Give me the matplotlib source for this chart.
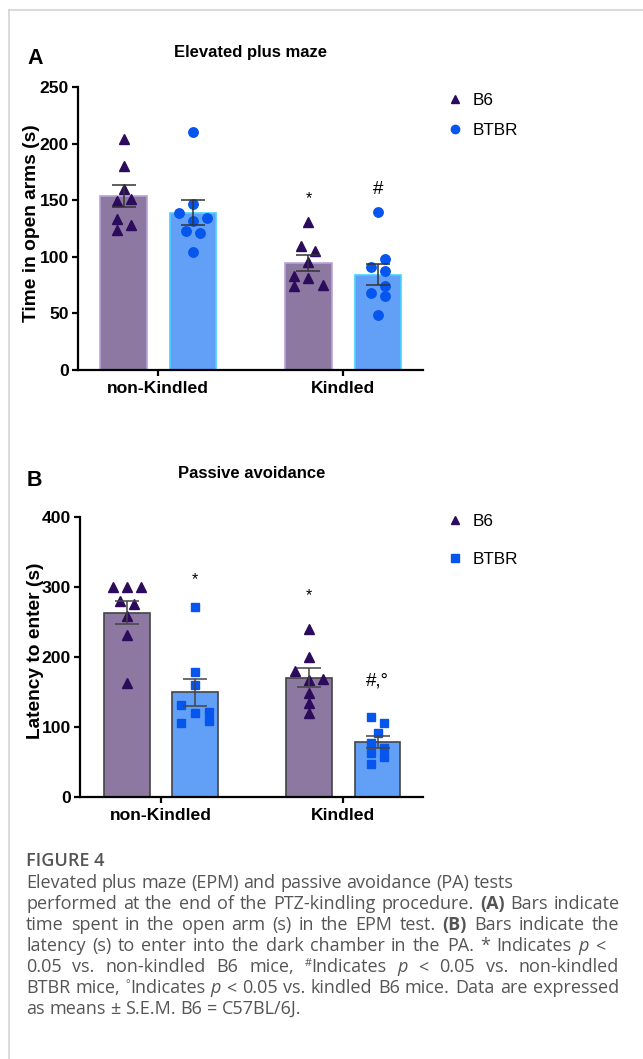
import matplotlib
matplotlib.use('Agg')
import matplotlib.pyplot as plt
from matplotlib.lines import Line2D

W, H = 643, 1059

groups = ['non-Kindled', 'Kindled']
strains = ['B6', 'BTBR']

# Elevated plus maze: individual animals (s)
epm_b6_nonk = [204, 180, 160, 149, 151, 133, 128, 124]
epm_btbr_nonk = [210.5, 147, 139, 132, 134, 123, 121, 104.5]
epm_b6_k = [131, 109.5, 105.4, 95.1, 82.8, 81.3, 74.2, 75.1]
epm_btbr_k = [139.6, 98, 91.3, 87.7, 74.2, 68.3, 65.6, 48.9]
# column slot of each dot inside its bar (-2..2)
epm_b6_nonk_slot = [0, 0, 0, -1, 1, -1, 1, -1]
epm_btbr_nonk_slot = [0, 0, -2, 0, 2, -1, 1, 0]
epm_b6_k_slot = [0, -1, 1, 0, -2, 0, -2, 2]
epm_btbr_k_slot = [0, 1, -1, 1, 1, -1, 1, 0]
epm_mean_b6 = [153.7, 94.5]
epm_sem_b6 = [9.8, 7.0]
epm_mean_btbr = [139, 84.2]
epm_sem_btbr = [11, 9.5]

# Passive avoidance latency (s)
pa_b6_nonk = [300, 300, 300, 280, 275, 258, 230.5, 163]
pa_btbr_nonk = [271.4, 177.6, 159, 130.5, 119, 121, 108.6, 104.8]
pa_b6_k = [239, 200, 179.5, 168.6, 166.7, 148.6, 133.3, 120]
pa_btbr_k = [113.3, 104.8, 90.5, 77.1, 62.9, 69, 57.1, 46.7]
pa_b6_nonk_slot = [-2, 0, 2, -1, 1, 0, 0, 0]
pa_btbr_nonk_slot = [0, 0, 0, -2, 0, 2, 2, -2]
pa_b6_k_slot = [0, 0, -2, 2, 0, 0, 0, 0]
pa_btbr_k_slot = [-1, 1, 0, -1, -1, 1, 1, -1]
pa_mean_b6 = [263, 170]
pa_sem_b6 = [16.5, 13.4]
pa_mean_btbr = [149, 77.5]
pa_sem_btbr = [19.5, 8.6]

# significance marks: (group, strain, text, y)
epm_marks = [(1, 0, '*', 145), (1, 1, '#', 152)]
pa_marks = [(0, 1, '*', 299), (1, 0, '*', 277), (1, 1, '#,\u00b0', 153)]

b6_fill, btbr_fill = '#8c78a0', '#62a0f7'
b6_dot, btbr_dot = '#2c0b5c', '#0656ee'
off, bw, step = 0.1875, 0.25, 0.038

plt.rcParams['font.family'] = ['Liberation Sans', 'DejaVu Sans']

fig = plt.figure(figsize=(W / 100, H / 100), dpi=100)


def box(l, t, r, b):
    return [l / W, 1 - b / H, (r - l) / W, (b - t) / H]


def panel(ax, means, sems, pts, slots, edges, errc, ymax, yticks, xlim, bmark):
    xs = [[g - off, g + off] for g in range(2)]
    for si, (fill, dot, mk, ms) in enumerate([(b6_fill, b6_dot, '^', 6.8),
                                              (btbr_fill, btbr_dot, bmark[0], bmark[1])]):
        bx = [xs[g][si] for g in range(2)]
        ax.bar(bx, means[si], width=bw, color=fill, edgecolor=edges[si], lw=1.2, zorder=2)
        ax.errorbar(bx, means[si], yerr=sems[si], fmt='none', ecolor=errc, elinewidth=1.1,
                    capsize=8.3, capthick=1.1, zorder=4)
        for g in range(2):
            vals = pts[g][si]
            sl = slots[g][si]
            ax.plot([bx[g] + s * step for s in sl], vals, ls='none', marker=mk, ms=ms,
                    color=dot, mec=dot, zorder=3)
    ax.set_xlim(*xlim)
    ax.set_ylim(0, ymax)
    ax.set_yticks(yticks)
    ax.set_xticks(range(2))
    ax.set_xticklabels(groups)
    for s in ['top', 'right']:
        ax.spines[s].set_visible(False)
    for s in ['left', 'bottom']:
        ax.spines[s].set_linewidth(1.6)
    ax.tick_params(axis='y', length=4.5, width=1.6, pad=2, labelsize=12.6)
    ax.tick_params(axis='x', length=4.5, width=1.6, pad=3.5, labelsize=12.6)
    for lab in ax.get_xticklabels() + ax.get_yticklabels():
        lab.set_fontweight('bold')
    return xs


axA = fig.add_axes(box(78, 87, 423, 370))
xsA = panel(axA, [epm_mean_b6, epm_mean_btbr], [epm_sem_b6, epm_sem_btbr],
            [[epm_b6_nonk, epm_btbr_nonk], [epm_b6_k, epm_btbr_k]],
            [[epm_b6_nonk_slot, epm_btbr_nonk_slot], [epm_b6_k_slot, epm_btbr_k_slot]],
            ['#b9a2d8', '#45d2ff'], '#333333', 250, [0, 50, 100, 150, 200, 250],
            (-0.434, 1.432), ('o', 6.8))
for g, s, t, y in epm_marks:
    axA.text(xsA[g][s], y, t, ha='center', va='bottom', fontsize=11.5 if t == '*' else 13.5)

axB = fig.add_axes(box(80, 516.7, 423, 796.7))
xsB = panel(axB, [pa_mean_b6, pa_mean_btbr], [pa_sem_b6, pa_sem_btbr],
            [[pa_b6_nonk, pa_btbr_nonk], [pa_b6_k, pa_btbr_k]],
            [[pa_b6_nonk_slot, pa_btbr_nonk_slot], [pa_b6_k_slot, pa_btbr_k_slot]],
            ['#444444', '#444444'], '#444444', 400, [0, 100, 200, 300, 400],
            (-0.444, 1.437), ('s', 6.4))
for g, s, t, y in pa_marks:
    axB.text(xsB[g][s], y, t, ha='center', va='bottom', fontsize=11.5 if t == '*' else 13.5)

# titles, panel letters, axis labels
fig.text(250 / W, 1 - 52 / H, 'Elevated plus maze', ha='center', va='center',
         fontsize=12, fontweight='bold')
fig.text(252 / W, 1 - 474 / H, 'Passive avoidance', ha='center', va='center',
         fontsize=12, fontweight='bold')
fig.text(35 / W, 1 - 58 / H, 'A', ha='center', va='center', fontsize=15.5, fontweight='bold')
fig.text(34 / W, 1 - 480 / H, 'B', ha='center', va='center', fontsize=15.5, fontweight='bold')
fig.text(32 / W, 1 - 223 / H, 'Time in open arms (s)', ha='center', va='center',
         rotation=90, fontsize=13.8, fontweight='bold')
fig.text(36 / W, 1 - 651 / H, 'Latency to enter (s)', ha='center', va='center',
         rotation=90, fontsize=13.8, fontweight='bold')

# legends
for top, gap, bm in [(93, 0.85, 'o'), (514, 1.33, 's')]:
    hs = [Line2D([], [], ls='none', marker='^', ms=6, color=b6_dot),
          Line2D([], [], ls='none', marker=bm, ms=6, color=btbr_dot)]
    fig.legend(hs, strains, loc='upper left', bbox_to_anchor=(446 / W, 1 - top / H),
               frameon=False, fontsize=12.3, handlelength=1.0, handletextpad=0.55,
               labelspacing=gap, borderaxespad=0, borderpad=0)

# frame lines
fig.add_artist(Line2D([9 / W, 1], [1 - 10 / H] * 2, color='#d4d4d4', lw=1.2))
fig.add_artist(Line2D([9 / W] * 2, [0, 1 - 10 / H], color='#d4d4d4', lw=1.2))

# caption
cap_font = ['Open Sans', 'DejaVu Sans']
cap_color = '#555557'
cap_size = 13
renderer = fig.canvas.get_renderer()


def run_width(txt, **kw):
    t = fig.text(0, 0, txt, **kw)
    w = t.get_window_extent(renderer).width
    t.remove()
    return w


def style(st):
    kw = dict(family=cap_font, color=cap_color, fontsize=cap_size)
    if st == 'b':
        kw['fontweight'] = 'bold'
    if st == 'i':
        kw['fontstyle'] = 'italic'
    if st == 's':
        kw['fontsize'] = cap_size * 0.6
    return kw


space_w = run_width('a a', **style('n')) - run_width('aa', **style('n'))


def cap_line(y, words, right=None):
    x0 = 26
    widths = []
    for wd in words:
        widths.append(sum(run_width(t, **style(s)) for t, s in wd))
    gap = space_w
    if right is not None and len(words) > 1:
        gap = (right - x0 - sum(widths)) / (len(words) - 1)
    x = x0
    for wd, ww in zip(words, widths):
        xx = x
        for t, s in wd:
            dy = 6 if s == 's' else 0
            fig.text(xx / W, 1 - (y - dy) / H, t, va='baseline', ha='left', **style(s))
            xx += run_width(t, **style(s))
        x += ww + gap


def plain(s):
    return [[(w, 'n')] for w in s.split()]


fig.text(26 / W, 1 - 866 / H, 'FIGURE 4', family=cap_font, color=cap_color,
         fontsize=cap_size, fontweight='semibold', va='baseline')
cap_line(888, plain('Elevated plus maze (EPM) and passive avoidance (PA) tests'))
cap_line(909, plain('performed at the end of the PTZ-kindling procedure.')
         + [[('(A)', 'b')]] + plain('Bars indicate'), right=620)
cap_line(930, plain('time spent in the open arm (s) in the EPM test.')
         + [[('(B)', 'b')]] + plain('Bars indicate the'), right=619)
cap_line(951, plain('latency (s) to enter into the dark chamber in the PA. * Indicates')
         + [[('p', 'i')], [('<', 'n')]], right=605)
cap_line(972, plain('0.05 vs. non-kindled B6 mice,') + [[('#', 's'), ('Indicates', 'n')]]
         + [[('p', 'i')]] + plain('< 0.05 vs. non-kindled'), right=619)
cap_line(993, plain('BTBR mice,') + [[('\u00b0', 's'), ('Indicates', 'n')]]
         + [[('p', 'i')]] + plain('< 0.05 vs. kindled B6 mice. Data are expressed'), right=619)
cap_line(1014, plain('as means \u00b1 S.E.M. B6 = C57BL/6J.'))

fig.savefig('out.png', dpi=100)
